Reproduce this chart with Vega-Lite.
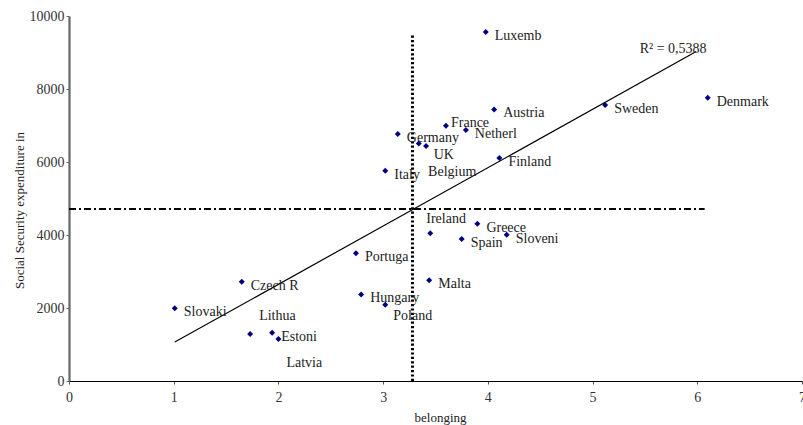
{
  "$schema": "https://vega.github.io/schema/vega-lite/v6.json",
  "width": 733,
  "height": 365,
  "autosize": {"type": "none"},
  "padding": {"left": 69, "top": 16, "right": 1, "bottom": 44},
  "background": "white",
  "config": {
    "view": {"stroke": null},
    "font": "Liberation Serif",
    "axis": {"labelFont": "Liberation Serif", "titleFont": "Liberation Serif"},
    "text": {"font": "Liberation Serif", "fontSize": 14, "color": "#222"}
  },
  "datasets": {
    "countries": [
      {"country": "Luxemb", "belonging": 3.98, "spend": 9560},
      {"country": "Austria", "belonging": 4.06, "spend": 7440},
      {"country": "France", "belonging": 3.60, "spend": 6990},
      {"country": "Netherl", "belonging": 3.79, "spend": 6880},
      {"country": "Germany", "belonging": 3.14, "spend": 6770},
      {"country": "UK", "belonging": 3.34, "spend": 6510},
      {"country": "Belgium", "belonging": 3.41, "spend": 6440},
      {"country": "Sweden", "belonging": 5.12, "spend": 7560},
      {"country": "Denmark", "belonging": 6.10, "spend": 7760},
      {"country": "Finland", "belonging": 4.11, "spend": 6110},
      {"country": "Italy", "belonging": 3.02, "spend": 5760},
      {"country": "Ireland", "belonging": 3.45, "spend": 4050},
      {"country": "Greece", "belonging": 3.90, "spend": 4310},
      {"country": "Spain", "belonging": 3.75, "spend": 3890},
      {"country": "Sloveni", "belonging": 4.18, "spend": 4010},
      {"country": "Malta", "belonging": 3.44, "spend": 2760},
      {"country": "Portuga", "belonging": 2.74, "spend": 3500},
      {"country": "Hungary", "belonging": 2.79, "spend": 2370},
      {"country": "Poland", "belonging": 3.02, "spend": 2090},
      {"country": "Czech R", "belonging": 1.65, "spend": 2720},
      {"country": "Slovaki", "belonging": 1.01, "spend": 1990},
      {"country": "Lithua", "belonging": 1.73, "spend": 1290},
      {"country": "Estoni", "belonging": 1.94, "spend": 1320},
      {"country": "Latvia", "belonging": 2.00, "spend": 1150}
    ],
    "trend": [
      {"belonging": 1.01, "spend": 1066},
      {"belonging": 5.99, "spend": 9025}
    ],
    "hline": [{"x1": 0, "x2": 6.07, "y": 4710}],
    "vline": [{"x": 3.28, "y1": 0, "y2": 9500}],
    "r2": [{"belonging": 5.45, "spend": 9090, "label": "R² = 0,5388"}]
  },
  "layer": [
    {
      "data": {"name": "vline"},
      "mark": {"type": "rule", "color": "black", "strokeWidth": 3, "strokeDash": [2.2, 2.2]},
      "encoding": {
        "x": {"field": "x", "type": "quantitative", "scale": {"domain": [0, 7], "nice": false},
          "axis": {"title": "belonging", "values": [0,1,2,3,4,5,6,7], "format": "d", "grid": false, "domainColor": "black", "domainWidth": 1.2,
            "tickColor": "#555", "tickSize": 3, "labelPadding": 6, "labelFont": "Liberation Serif", "labelFontSize": 14,
            "labelColor": "#333", "labelFlush": false, "titleFont": "Liberation Serif", "titleFontSize": 13, "titleFontWeight": "normal",
            "titleColor": "#222", "titleX": 371, "titleY": 36, "titleBaseline": "middle"}},
        "y": {"field": "y1", "type": "quantitative", "scale": {"domain": [0, 10000], "nice": false},
          "axis": {"title": "Social Security expenditure in", "values": [0,1000,2000,3000,4000,5000,6000,7000,8000,9000,10000],
            "format": "d", "grid": false, "domainColor": "#666", "domainWidth": 2.2, "tickColor": "#666", "tickSize": 3, "labelPadding": 2,
            "labelFont": "Liberation Serif", "labelFontSize": 14, "labelColor": "#333", "labelFlush": false,
            "titleFont": "Liberation Serif", "titleFontSize": 13, "titleFontWeight": "normal", "titleColor": "#222",
            "titleX": -50, "titleY": 194, "titleBaseline": "middle"}},
        "y2": {"field": "y2"}
      }
    },
    {
      "data": {"name": "hline"},
      "mark": {"type": "rule", "color": "black", "strokeWidth": 2, "strokeDash": [7, 3, 2, 3]},
      "encoding": {
        "x": {"field": "x1", "type": "quantitative"},
        "x2": {"field": "x2"},
        "y": {"field": "y", "type": "quantitative"}
      }
    },
    {
      "data": {"name": "trend"},
      "mark": {"type": "line", "color": "black", "strokeWidth": 1.2},
      "encoding": {
        "x": {"field": "belonging", "type": "quantitative"},
        "y": {"field": "spend", "type": "quantitative"}
      }
    },
    {
      "data": {"name": "countries"},
      "mark": {"type": "point", "shape": "diamond", "filled": true, "color": "#000080", "size": 36, "opacity": 1},
      "encoding": {
        "x": {"field": "belonging", "type": "quantitative"},
        "y": {"field": "spend", "type": "quantitative"}
      }
    },
    {
      "data": {"name": "countries"},
      "transform": [{"filter": {"not": {"field": "country", "oneOf": ["UK", "Belgium", "Ireland", "Poland", "Lithua", "Latvia", "France"]}}}],
      "mark": {"type": "text", "align": "left", "baseline": "middle", "dx": 9, "dy": 4},
      "encoding": {
        "x": {"field": "belonging", "type": "quantitative"},
        "y": {"field": "spend", "type": "quantitative"},
        "text": {"field": "country"}
      }
    },
    {
      "data": {"name": "countries"},
      "transform": [{"filter": {"field": "country", "equal": "France"}}],
      "mark": {"type": "text", "align": "left", "baseline": "middle", "dx": 5, "dy": -3},
      "encoding": {
        "x": {"field": "belonging", "type": "quantitative"},
        "y": {"field": "spend", "type": "quantitative"},
        "text": {"field": "country"}
      }
    },
    {
      "data": {"name": "countries"},
      "transform": [{"filter": {"field": "country", "equal": "UK"}}],
      "mark": {"type": "text", "align": "left", "baseline": "middle", "dx": 15, "dy": 12},
      "encoding": {
        "x": {"field": "belonging", "type": "quantitative"},
        "y": {"field": "spend", "type": "quantitative"},
        "text": {"field": "country"}
      }
    },
    {
      "data": {"name": "countries"},
      "transform": [{"filter": {"field": "country", "equal": "Belgium"}}],
      "mark": {"type": "text", "align": "left", "baseline": "middle", "dx": 2, "dy": 26},
      "encoding": {
        "x": {"field": "belonging", "type": "quantitative"},
        "y": {"field": "spend", "type": "quantitative"},
        "text": {"field": "country"}
      }
    },
    {
      "data": {"name": "countries"},
      "transform": [{"filter": {"field": "country", "equal": "Ireland"}}],
      "mark": {"type": "text", "align": "left", "baseline": "middle", "dx": -4, "dy": -14},
      "encoding": {
        "x": {"field": "belonging", "type": "quantitative"},
        "y": {"field": "spend", "type": "quantitative"},
        "text": {"field": "country"}
      }
    },
    {
      "data": {"name": "countries"},
      "transform": [{"filter": {"field": "country", "equal": "Poland"}}],
      "mark": {"type": "text", "align": "left", "baseline": "middle", "dx": 8, "dy": 11},
      "encoding": {
        "x": {"field": "belonging", "type": "quantitative"},
        "y": {"field": "spend", "type": "quantitative"},
        "text": {"field": "country"}
      }
    },
    {
      "data": {"name": "countries"},
      "transform": [{"filter": {"field": "country", "equal": "Lithua"}}],
      "mark": {"type": "text", "align": "left", "baseline": "middle", "dx": 9, "dy": -18},
      "encoding": {
        "x": {"field": "belonging", "type": "quantitative"},
        "y": {"field": "spend", "type": "quantitative"},
        "text": {"field": "country"}
      }
    },
    {
      "data": {"name": "countries"},
      "transform": [{"filter": {"field": "country", "equal": "Latvia"}}],
      "mark": {"type": "text", "align": "left", "baseline": "middle", "dx": 8, "dy": 24},
      "encoding": {
        "x": {"field": "belonging", "type": "quantitative"},
        "y": {"field": "spend", "type": "quantitative"},
        "text": {"field": "country"}
      }
    },
    {
      "data": {"name": "r2"},
      "mark": {"type": "text", "align": "left", "baseline": "middle"},
      "encoding": {
        "x": {"field": "belonging", "type": "quantitative"},
        "y": {"field": "spend", "type": "quantitative"},
        "text": {"field": "label"}
      }
    }
  ]
}
